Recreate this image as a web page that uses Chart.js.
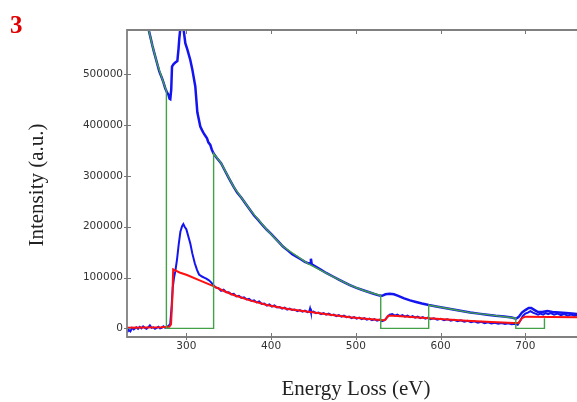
<!DOCTYPE html>
<html>
<head>
<meta charset="utf-8">
<script src="https://cdn.jsdelivr.net/npm/chart.js@4.4.1/dist/chart.umd.min.js"></script>
<style>
html,body{margin:0;padding:0;background:#fff;overflow:hidden;}
#wrap{width:577px;height:402px;position:relative;}
</style>
</head>
<body>
<div id="wrap"><canvas id="c" width="577" height="402"></canvas></div>
<script>
// ---- data ----
const xTicks = [300, 400, 500, 600, 700];
const yTicks = [0, 100000, 200000, 300000, 400000, 500000];

// raw spectrum (upper blue)
const rawE = [245,250,255.5,257.5,260,262,265.4,268,271.3,273,275.2,277,279.1,280.2,281.1,282.2,283.1,285,287,289.4,290.8,291.7,292.9,294.7,296.5,298.8,301,304.7,307,310.6,313,316.5,318.5,320.4,322,324.4,326,328.3,330,332.2,336,341,345,350,355.7,360,365,370,375.3,380,385,390,395,400,405,410,414,420,425,430,435,440,444,446,447,448,452,458,465,473,480,487,493,500,507,514,521,528,531,535,540,545,550,557,564,571,578,586,595,605,615,625,635,645,655,665,675,684,689,692,696,700,704,707,711,715,720,726,732,740,748,755,761];
const rawI = [660000,625000,588000,574000,556000,543000,522000,506000,492000,484000,472000,465000,459000,452000,451000,470000,515000,520000,523000,526000,550000,570000,590000,605000,592000,561000,550000,528000,510000,476000,425000,397000,390000,384000,380000,374000,366000,361000,352000,344000,335000,325000,312000,296000,279000,267000,257000,245000,233000,222000,213000,203000,194000,186000,177000,168000,161000,153000,146000,141000,136000,131000,128000,127000,137000,126000,122000,116000,109000,102000,96000,90000,85000,80000,76000,72000,68000,64500,64000,67000,68000,67000,64000,59000,55000,52000,49000,46000,43000,40000,37000,34000,31000,29000,27000,25000,23500,21500,19000,22000,31000,36000,40000,40000,36000,32000,32000,34000,32000,31000,30000,29000,28000];

// background-subtracted signal (lower blue)
const sigE = [230,232,234,236,238,241,243,245,247,249,251,253,255,257,259,261,263,265,267,269,271,273,275,277,279,281,282.5,284,285.5,287,289,291,293,295,296.5,298,300,302,304.7,307,310,312.6,315,318.5,321,323.5,326.3,329,332,335,338,341,344,347,350,353,356,359,362,365,368,371,374,377,380,383,386,389,392,395,398,401,404,407,410,413,416,419,422,425,428,431,434,437,440,443,445,446,447,450,453,456,459,462,465,468,471,474,477,480,483,486,489,492,495,498,501,504,507,510,513,516,519,522,525,528,531,534,537,540,543,546,549,552,555,558,561,564,567,570,573,576,579,582,585,588,592,596,600,604,608,612,616,620,624,628,632,636,640,644,648,652,656,660,664,668,672,676,680,684,688,691,694,697,700,703,706,709,712,715,718,721,724,727,730,734,738,742,746,750,754,758,761];
const sigI = [-8000,-3000,-6000,1000,-2000,2000,-1000,3000,0,4000,1000,-1000,2000,6000,1000,2000,-1000,1000,3000,0,1000,4000,1000,3000,5000,9000,40000,80000,100000,112000,135000,165000,190000,201000,205000,200000,195000,183000,167000,148000,128000,115000,106000,102000,100000,98000,95000,91000,85000,80000,79000,74000,76000,71000,71000,67000,68000,63000,64000,60000,61000,57000,58000,54000,55000,51000,53000,48000,49000,45000,47000,43000,45000,41000,42000,39000,41000,37000,39000,36000,37000,34000,36000,33000,35000,32000,33000,39000,32000,33000,30000,31000,28000,30000,27000,29000,26000,27000,24000,26000,23000,25000,22000,23000,20000,22000,19000,21000,18000,20000,17000,19000,16000,18000,15000,17000,14000,16000,22000,27000,28000,25000,27000,24000,26000,23000,25000,22000,24000,21000,23000,20000,22000,19000,21000,18000,20000,17000,19000,16000,18000,15000,17000,14000,16000,13000,15000,12000,14000,11000,13000,10000,12000,9500,11000,9000,10500,8500,10000,8000,9000,7000,15000,24000,29000,31000,34000,31000,29000,27000,29000,27000,30000,28000,30000,27000,29000,26000,28000,25000,27000,25000,26000];

// model fit (red)
const fitE = [230,250,270,280,282,283.5,284.5,287,292,300.8,315,332,345,355.7,375,395,420,442,470,493,515,533,535,538,545,586,631,660,686,692,696,700,730,761];
const fitI = [1000,1500,2000,3000,8000,60000,116000,114000,110000,105000,95000,83000,73000,65600,55000,46000,38000,33000,27000,22000,18500,16000,17000,25000,25000,20000,15000,12500,10500,10500,20000,23000,22500,22000];

// background fit with integration windows (green)
const bgE = [248,255.5,260,265.4,271.3,276.5,276.5,332.2,332.2,341,355.7,375.3,395,414,444,473,493,510,529.4,529.4,586,586,610,635,660,688.8,688.8,722.6,722.6];
const bgI = [640000,588000,556000,522000,492000,467000,0,0,344000,325000,279000,233000,194000,161000,127000,102000,85000,74000,64500,0,0,46000,38500,31000,26000,20000,0,0,20000];

const pts = (E, I) => E.map((e, i) => ({x: e, y: I[i]}));

const framePlugin = {
  id: 'frame',
  afterDraw(chart) {
    const {ctx, chartArea: a, scales} = chart;
    ctx.save();
    ctx.strokeStyle = '#808080';
    ctx.lineWidth = 1.8;
    ctx.beginPath();
    ctx.moveTo(a.right + 2, a.top);
    ctx.lineTo(a.left, a.top);
    ctx.lineTo(a.left, a.bottom);
    ctx.lineTo(a.right + 2, a.bottom);
    ctx.stroke();
    ctx.strokeStyle = '#777';
    ctx.lineWidth = 1;
    ctx.beginPath();
    scales.x.ticks.forEach(t => {
      const px = Math.round(scales.x.getPixelForValue(t.value)) + 0.5;
      ctx.moveTo(px, a.bottom + 3); ctx.lineTo(px, a.bottom - 4);
      ctx.moveTo(px, a.top); ctx.lineTo(px, a.top + 4);
    });
    scales.y.ticks.forEach(t => {
      const py = Math.round(scales.y.getPixelForValue(t.value)) + 0.5;
      ctx.moveTo(a.left - 3, py); ctx.lineTo(a.left + 4, py);
    });
    ctx.stroke();
    ctx.fillStyle = '#e00000';
    ctx.font = 'bold 25px "Liberation Serif"';
    ctx.textAlign = 'left';
    ctx.textBaseline = 'alphabetic';
    ctx.fillText('3', 10, 33);
    ctx.fillStyle = '#222';
    ctx.font = '21px "Liberation Serif"';
    ctx.textAlign = 'center';
    ctx.fillText('Energy Loss (eV)', 356, 395);
    ctx.translate(43, 185);
    ctx.rotate(-Math.PI / 2);
    ctx.fillText('Intensity (a.u.)', 0, 0);
    ctx.restore();
  }
};

new Chart(document.getElementById('c'), {
  type: 'line',
  data: {
    datasets: [
      {data: pts(bgE, bgI), borderColor: '#43a047', borderWidth: 1.4, order: 1},
      {data: pts(rawE, rawI), borderColor: '#1414f0', borderWidth: 2.5, order: 2},
      {data: pts(fitE, fitI), borderColor: '#ff1010', borderWidth: 2, order: 3},
      {data: pts(sigE, sigI), borderColor: '#1414f0', borderWidth: 2, order: 4}
    ]
  },
  options: {
    responsive: false,
    animation: false,
    devicePixelRatio: 1,
    layout: {padding: {top: 30, right: 0, left: 0, bottom: 0}},
    elements: {point: {radius: 0}, line: {tension: 0}},
    plugins: {legend: {display: false}, tooltip: {enabled: false}},
    scales: {
      x: {
        type: 'linear', min: 230, max: 761,
        grid: {display: false, drawTicks: false},
        border: {display: false},
        afterBuildTicks: s => { s.ticks = xTicks.map(v => ({value: v})); },
        afterFit: s => { s.height = 65; },
        ticks: {padding: 3, color: '#333', font: {family: 'DejaVu Sans', size: 10.5}, maxRotation: 0, callback: v => String(v)}
      },
      y: {
        type: 'linear', min: -17000, max: 587000,
        grid: {display: false, drawTicks: false},
        border: {display: false},
        afterBuildTicks: s => { s.ticks = yTicks.map(v => ({value: v})); },
        afterFit: s => { s.width = 127; },
        ticks: {padding: 4, color: '#333', font: {family: 'DejaVu Sans', size: 10.5}, callback: v => String(v)}
      }
    }
  },
  plugins: [framePlugin]
});
</script>
</body>
</html>
